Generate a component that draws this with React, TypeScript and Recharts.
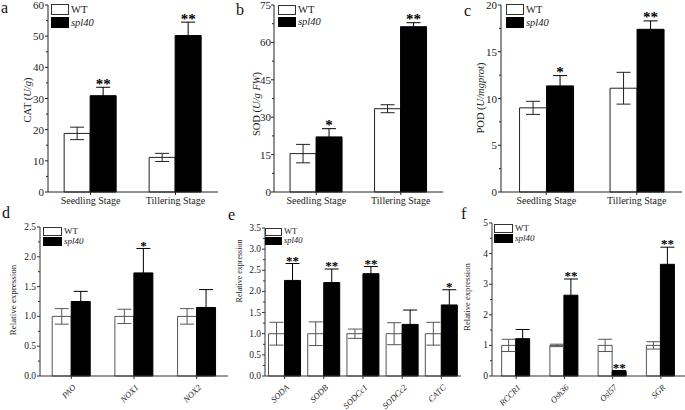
import React from "react";
import { BarChart, Bar, XAxis, YAxis, ErrorBar, LabelList } from "recharts";

// ---- data ----
const stageCats = ["Seedling Stage", "Tillering Stage"];

const catWt = [18.8, 11.1];
const catWtErr = [2.0, 1.3];
const catMut = [30.9, 50.2];
const catMutErr = [2.7, 4.3];
const catStars = ["**", "**"];

const sodWt = [15.4, 33.4];
const sodWtErr = [3.7, 1.6];
const sodMut = [22.1, 66.3];
const sodMutErr = [3.3, 1.6];
const sodStars = ["*", "**"];

const podWt = [9.0, 11.1];
const podWtErr = [0.7, 1.7];
const podMut = [11.35, 17.4];
const podMutErr = [1.1, 0.9];
const podStars = ["*", "**"];

const dGenes = ["PAO", "NOX1", "NOX2"];
const dWt = [1.0, 1.0, 1.0];
const dWtErr = [0.13, 0.12, 0.13];
const dMut = [1.25, 1.73, 1.15];
const dMutErr = [0.17, 0.41, 0.3];
const dStars = ["", "*", ""];

const eGenes = ["SODA", "SODB", "SODCc1", "SODCc2", "CATC"];
const eWt = [1.0, 1.0, 1.0, 1.0, 1.0];
const eWtErr = [0.27, 0.28, 0.11, 0.26, 0.27];
const eMut = [2.26, 2.21, 2.42, 1.22, 1.68];
const eMutErr = [0.4, 0.32, 0.17, 0.34, 0.36];
const eStars = ["**", "**", "**", "", "*"];

const fGenes = ["RCCR1", "Osh36", "Osl57", "SGR"];
const fWt = [1.0, 1.0, 1.0, 1.0];
const fWtErr = [0.2, 0.04, 0.2, 0.12];
const fMut = [1.22, 2.64, 0.15, 3.65];
const fMutErr = [0.3, 0.53, 0.03, 0.56];
const fStars = ["", "**", "**", "**"];

// y ticks (majors get labels, minor ticks sit half way between)
const catMajor = [0, 10, 20, 30, 40, 50, 60];
const sodMajor = [0, 15, 30, 45, 60, 75];
const podMajor = [0, 5, 10, 15, 20];
const dMajor = [0, 0.5, 1.0, 1.5, 2.0, 2.5];
const eMajor = [0, 0.5, 1.0, 1.5, 2.0, 2.5, 3.0, 3.5];
const fMajor = [0, 1, 2, 3, 4, 5];

const W = 685;
const H = 410;
const FONT = "'Liberation Serif', 'Times New Roman', serif";

const withMinors = (majors: number[]) => {
  const out: number[] = [];
  majors.forEach((v, i) => {
    out.push(v);
    if (i < majors.length - 1) out.push((v + majors[i + 1]) / 2);
  });
  return out;
};

const makeRows = (cats: string[], wt: number[], wtErr: number[], mut: number[], mutErr: number[]) =>
  cats.map((name, i) => ({ name, wt: wt[i], wtErr: wtErr[i], mut: mut[i], mutErr: mutErr[i] }));

type PanelProps = {
  cats: string[];
  wt: number[];
  wtErr: number[];
  mut: number[];
  mutErr: number[];
  stars: string[];
  majors: number[];
  digits: number;
  plot: { left: number; right: number; top: number; bottom: number };
  gap: string;
  rotated?: boolean;
  tickFs: number;
  tickGap: number;
  xFs: number;
  starFs: number;
  wtStroke: string;
  axisColor: string;
};

function Panel(p: PanelProps) {
  const data = makeRows(p.cats, p.wt, p.wtErr, p.mut, p.mutErr);
  const max = p.majors[p.majors.length - 1];
  const margin = {
    left: p.plot.left - 40,
    right: W - p.plot.right,
    top: p.plot.top,
    bottom: H - p.plot.bottom - 30,
  };

  const YTick = (t: any) => {
    const v = t.payload.value;
    const major = p.majors.some((m) => Math.abs(m - v) < 1e-6);
    return (
      <g>
        <line x1={t.x} x2={t.x - (major ? 3 : 2)} y1={t.y} y2={t.y} stroke={p.axisColor} strokeWidth={1} />
        {major && (
          <text x={t.x - p.tickGap} y={t.y} textAnchor="end" dominantBaseline="central" fontSize={p.tickFs} fontFamily={FONT} fill="#222">
            {v.toFixed(p.digits)}
          </text>
        )}
      </g>
    );
  };

  const XTick = (t: any) => {
    if (p.rotated) {
      const ax = t.x + 5;
      const ay = t.y + 9;
      return (
        <text x={ax} y={ay} transform={`rotate(-45, ${ax}, ${ay})`} textAnchor="end" fontSize={p.xFs} fontStyle="italic" fontFamily={FONT} fill="#222">
          {t.payload.value}
        </text>
      );
    }
    return (
      <text x={t.x} y={t.y + 9} textAnchor="middle" fontSize={p.xFs} fontFamily={FONT} fill="#222">
        {t.payload.value}
      </text>
    );
  };

  const renderStar = (lp: any) => {
    const vb = lp.viewBox || lp;
    const idx = lp.index;
    const star = p.stars[idx];
    if (!star) return null;
    const val = p.mut[idx];
    const errTop = vb.y - (p.mutErr[idx] * vb.height) / val;
    return (
      <text x={vb.x + vb.width / 2} y={errTop + p.starFs * 0.1} textAnchor="middle" fontSize={p.starFs} fontWeight="bold" fontFamily={FONT} fill="#000">
        {star}
      </text>
    );
  };

  return (
    <div style={{ position: "absolute", left: 0, top: 0 }}>
      <BarChart width={W} height={H} data={data} margin={margin} barCategoryGap={p.gap} barGap={0}>
        <XAxis
          dataKey="name"
          interval={0}
          tickSize={3}
          tickMargin={0}
          stroke={p.axisColor}
          tick={XTick}
          height={30}
        />
        <YAxis
          type="number"
          domain={[0, max]}
          ticks={withMinors(p.majors)}
          interval={0}
          tickSize={0}
          tickMargin={0}
          tickLine={false}
          stroke={p.axisColor}
          tick={YTick}
          width={40}
        />
        <Bar dataKey="wt" fill="#fff" stroke={p.wtStroke} strokeWidth={1} isAnimationActive={false}>
          <ErrorBar dataKey="wtErr" width={7} stroke={p.wtStroke} strokeWidth={1} direction="y" />
        </Bar>
        <Bar dataKey="mut" fill="#000" stroke="#000" strokeWidth={1} isAnimationActive={false}>
          <ErrorBar dataKey="mutErr" width={7} stroke="#000" strokeWidth={1} direction="y" />
          <LabelList dataKey="mut" content={renderStar} />
        </Bar>
      </BarChart>
    </div>
  );
}

function LegendBox({ x, y1, y2, bw, bh, fs }: { x: number; y1: number; y2: number; bw: number; bh: number; fs: number }) {
  return (
    <g fontFamily={FONT} fontSize={fs} fill="#222">
      <rect x={x + 0.5} y={y1 + 0.5} width={bw} height={bh} fill="#fff" stroke="#333" />
      <text x={x + bw + 3} y={y1 + bh - 1}>WT</text>
      <rect x={x + 0.5} y={y2 + 0.5} width={bw} height={bh} fill="#000" stroke="#000" />
      <text x={x + bw + 3} y={y2 + bh - 1} fontStyle="italic">spl40</text>
    </g>
  );
}

// x is the baseline position of the rotated title (letters sit to its left)
function YTitle({ x, y, fs, children }: { x: number; y: number; fs: number; children: React.ReactNode }) {
  return (
    <text x={x} y={y} transform={`rotate(-90, ${x}, ${y})`} textAnchor="middle" fontSize={fs} fontFamily={FONT} fill="#222">
      {children}
    </text>
  );
}

export default function App() {
  const top = { tickFs: 11, tickGap: 4, xFs: 10, starFs: 15, wtStroke: "#222", axisColor: "#222", digits: 0 };
  const bot = { tickFs: 9.5, tickGap: 4, xFs: 8.5, starFs: 13, wtStroke: "#555", axisColor: "#333" };
  return (
    <div style={{ position: "absolute", left: 0, top: 0, width: W, height: H, background: "#fff", overflow: "hidden" }}>
      <Panel {...top} cats={stageCats} wt={catWt} wtErr={catWtErr} mut={catMut} mutErr={catMutErr} stars={catStars}
        majors={catMajor} plot={{ left: 48, right: 218, top: 5, bottom: 192 }} gap="19%" />
      <Panel {...top} tickGap={3} cats={stageCats} wt={sodWt} wtErr={sodWtErr} mut={sodMut} mutErr={sodMutErr} stars={sodStars}
        majors={sodMajor} plot={{ left: 274, right: 443, top: 5, bottom: 192 }} gap="19%" />
      <Panel {...top} cats={stageCats} wt={podWt} wtErr={podWtErr} mut={podMut} mutErr={podMutErr} stars={podStars}
        majors={podMajor} plot={{ left: 501, right: 682, top: 5, bottom: 192 }} gap="20.5%" />
      <Panel {...bot} digits={1} rotated cats={dGenes} wt={dWt} wtErr={dWtErr} mut={dMut} mutErr={dMutErr} stars={dStars}
        majors={dMajor} plot={{ left: 40, right: 228, top: 227, bottom: 376 }} gap="19.5%" />
      <Panel {...bot} digits={1} rotated cats={eGenes} wt={eWt} wtErr={eWtErr} mut={eMut} mutErr={eMutErr} stars={eStars}
        majors={eMajor} plot={{ left: 265, right: 461, top: 228, bottom: 376 }} gap="9%" />
      <Panel {...bot} digits={0} rotated cats={fGenes} wt={fWt} wtErr={fWtErr} mut={fMut} mutErr={fMutErr} stars={fStars}
        majors={fMajor} plot={{ left: 492, right: 685, top: 223, bottom: 376 }} gap="20%" />

      <svg width={W} height={H} style={{ position: "absolute", left: 0, top: 0, pointerEvents: "none" }}>
        <g fontFamily={FONT} fontSize={16} fill="#111">
          <text x={1} y={13}>a</text>
          <text x={236} y={15}>b</text>
          <text x={464} y={16}>c</text>
          <text x={2} y={218}>d</text>
          <text x={228} y={220}>e</text>
          <text x={461} y={219}>f</text>
        </g>

        <YTitle x={31} y={100} fs={10.5}>CAT (<tspan fontStyle="italic">U/g</tspan>)</YTitle>
        <YTitle x={260} y={104} fs={10.5}>SOD (<tspan fontStyle="italic">U/g FW</tspan>)</YTitle>
        <YTitle x={484} y={98} fs={10.5}>POD (<tspan fontStyle="italic">U/mgprot</tspan>)</YTitle>
        <YTitle x={16} y={300} fs={9}>Relative expression</YTitle>
        <YTitle x={242} y={271} fs={8}>Relative expression</YTitle>
        <YTitle x={470} y={297} fs={8.6}>Relative expression</YTitle>

        <LegendBox x={51} y1={4} y2={17} bw={17} bh={10} fs={10.5} />
        <LegendBox x={278} y1={5} y2={17} bw={17} bh={9} fs={10.5} />
        <LegendBox x={506} y1={4} y2={17} bw={17} bh={10} fs={10.5} />
        <LegendBox x={43} y1={227} y2={237} bw={18} bh={8} fs={9} />
        <LegendBox x={265} y1={228} y2={237} bw={16} bh={7} fs={8.5} />
        <LegendBox x={494} y1={224} y2={234} bw={18} bh={8} fs={9} />
      </svg>
    </div>
  );
}
